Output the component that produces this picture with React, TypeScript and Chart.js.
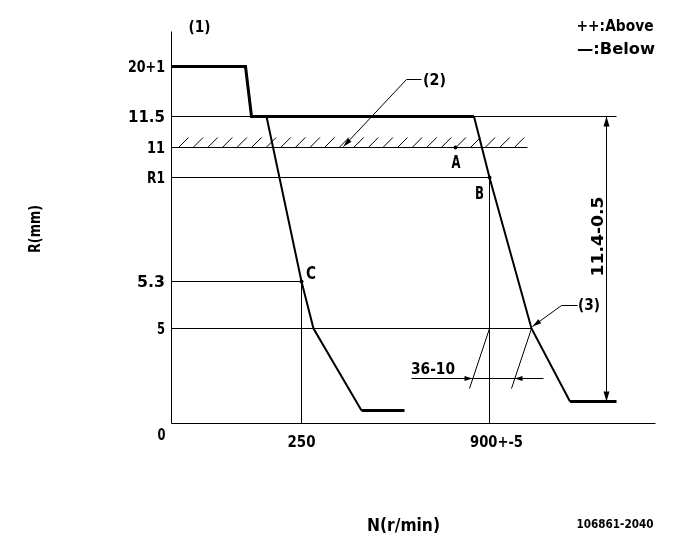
import React, { useEffect, useRef } from 'react';
import { Chart, registerables } from 'chart.js';
Chart.register(...registerables);

// Schematic governor diagram (not to scale): values are diagram positions
const xTickLabels = ['0', '250', '900+-5'];
const xTickValues = [0, 130, 318];
const yTickLabels = ['0', '5', '5.3', 'R1', '11', '11.5', '20+1'];
const yTickValues = [0, 95, 142, 246, 276, 307, 357];

// main characteristic
const fullLoadN = [0, 74, 80, 302.5];
const fullLoadR = [357, 357, 307, 307];
const highDroopN = [302.5, 318, 360, 398.5];
const highDroopR = [307, 246, 95, 22];
const highStopN = [398.5, 445];
const highStopR = [22, 22];
const lowDroopN = [95, 130, 142, 190];
const lowDroopR = [307, 142, 95, 13];
const lowStopN = [190, 233];
const lowStopR = [13, 13];

// measuring points A, B, C
const pointN = [284, 318, 130];
const pointR = [276, 246, 142];

// thin reference lines
const refLinesN = [
  [0, 445], [0, 356], [0, 318], [0, 130], [130, 130], [0, 360], [318, 318],
  [0, 0], [0, 484], [435, 435], [240, 372], [318, 298], [360, 340],
  [250, 235, 172], [406, 390, 361],
];
const refLinesR = [
  [307, 307], [276, 276], [246, 246], [142, 142], [142, 0], [95, 95], [246, 0],
  [0, 392], [0, 0], [307, 22], [45, 45], [95, 35], [95, 35],
  [344, 344, 277], [118, 118, 97],
];

const pts = (xs: number[], ys: number[]) => xs.map((x, i) => ({ x, y: ys[i] }));

function drawText(ctx: CanvasRenderingContext2D, text: string, px: number, py: number,
  size: number, width?: number, align: CanvasTextAlign = 'center', rot = 0) {
  ctx.save();
  ctx.font = `bold ${size}px "DejaVu Sans"`;
  const w = ctx.measureText(text).width;
  const sx = width ? width / w : 1;
  ctx.translate(px, py);
  if (rot) ctx.rotate(rot);
  ctx.scale(sx, 1);
  ctx.textAlign = align;
  ctx.textBaseline = 'alphabetic';
  ctx.fillStyle = '#000';
  ctx.fillText(text, 0, (size * 0.729) / 2);
  ctx.restore();
}

function drawArrow(ctx: CanvasRenderingContext2D, tx: number, ty: number, fx: number, fy: number, len: number, half: number) {
  const a = Math.atan2(ty - fy, tx - fx);
  const bx = tx - len * Math.cos(a), by = ty - len * Math.sin(a);
  ctx.beginPath();
  ctx.moveTo(tx, ty);
  ctx.lineTo(bx + half * Math.sin(a), by - half * Math.cos(a));
  ctx.lineTo(bx - half * Math.sin(a), by + half * Math.cos(a));
  ctx.closePath();
  ctx.fill();
}

const notes = [
  { t: '(1)', n: 28, r: 397, size: 15, w: 22, rot: 0 },
  { t: '++:Above', n: 443.5, r: 397.5, size: 15, w: 77, rot: 0 },
  { t: '\u2014:Below', n: 444.5, r: 374.5, size: 15, w: 78, rot: 0 },
  { t: '(2)', n: 263, r: 343.5, size: 15, w: 23, rot: 0 },
  { t: '(3)', n: 417.5, r: 118.5, size: 15, w: 22, rot: 0 },
  { t: 'A', n: 284.5, r: 262, size: 17, w: 9, rot: 0 },
  { t: 'B', n: 308, r: 230.5, size: 17, w: 9, rot: 0 },
  { t: 'C', n: 139.5, r: 151, size: 17, w: 10, rot: 0 },
  { t: '36-10', n: 261.5, r: 55, size: 15, w: 44, rot: 0 },
  { t: '11.4-0.5', n: 426, r: 187, size: 16, w: 80, rot: -Math.PI / 2 },
  { t: 'R(mm)', n: -137.5, r: 194.5, size: 16, w: 48, rot: -Math.PI / 2 },
  { t: 'N(r/min)', n: 232, r: -100.5, size: 18, w: 73, rot: 0 },
  { t: '106861-2040', n: 443.5, r: -100.5, size: 12, w: 77, rot: 0 },
];

const yLabelWidth: Record<string, number> = { '20+1': 37, '11.5': 37, '11': 18, 'R1': 18, '5.3': 28, '5': 8 };
const xLabelWidth: Record<string, number> = { '0': 8, '250': 28, '900+-5': 53 };

const annotate = {
  id: 'annotate',
  afterDatasetsDraw(chart: any) {
    const { ctx } = chart;
    const xs = chart.scales.x, ys = chart.scales.y;
    const X = (v: number) => xs.getPixelForValue(v);
    const Y = (v: number) => ys.getPixelForValue(v);
    ctx.save();
    ctx.strokeStyle = '#000';
    ctx.fillStyle = '#000';
    ctx.lineWidth = 1;
    // hatch on the 11 line
    for (let u = 7; u <= 347; u += 14.6) {
      ctx.beginPath();
      ctx.moveTo(X(u), Y(276));
      ctx.lineTo(X(u + 10), Y(286));
      ctx.stroke();
    }
    // arrows
    drawArrow(ctx, X(435), Y(307), X(435), Y(290), 10, 3);
    drawArrow(ctx, X(435), Y(22), X(435), Y(40), 10, 3);
    drawArrow(ctx, X(301), Y(45), X(280), Y(45), 8, 2.5);
    drawArrow(ctx, X(343), Y(45), X(365), Y(45), 8, 2.5);
    drawArrow(ctx, X(172), Y(277), X(235), Y(344), 9, 2.5);
    drawArrow(ctx, X(361), Y(97), X(390), Y(118), 9, 2.5);
    ctx.restore();

    // tick labels
    yTickLabels.forEach((lab, i) => {
      if (yTickValues[i] === 0) return;
      drawText(ctx, lab, X(-6.5), Y(yTickValues[i]), 15, yLabelWidth[lab], 'right');
    });
    xTickLabels.forEach((lab, i) => {
      const v = xTickValues[i];
      if (v === 0) {
        drawText(ctx, lab, X(-10), Y(-11.5), 15, xLabelWidth[lab]);
      } else if (lab.includes('+')) {
        drawText(ctx, lab, X(v) - 19.5, Y(-18), 16, xLabelWidth[lab], 'left');
      } else {
        drawText(ctx, lab, X(v), Y(-18), 16, xLabelWidth[lab]);
      }
    });
    notes.forEach((o) => drawText(ctx, o.t, X(o.n), Y(o.r), o.size, o.w, 'center', o.rot));
  },
};

export default function App() {
  const ref = useRef<HTMLCanvasElement>(null);
  useEffect(() => {
    if (!ref.current) return;
    const line = (data: any, width: number) => ({
      data, showLine: true, borderColor: '#000', borderWidth: width, pointRadius: 0,
      borderJoinStyle: 'miter', borderCapStyle: 'butt', clip: false, fill: false,
    });
    const datasets: any[] = [
      line(pts(fullLoadN, fullLoadR), 3),
      line(pts(highDroopN, highDroopR), 2),
      line(pts(highStopN, highStopR), 3),
      line(pts(lowDroopN, lowDroopR), 2),
      line(pts(lowStopN, lowStopR), 3),
      {
        data: pts(pointN, pointR), showLine: false, pointRadius: 2, pointBackgroundColor: '#000',
        pointBorderWidth: 0, clip: false,
      },
      ...refLinesN.map((n, i) => line(pts(n, refLinesR[i]), 1)),
    ];
    const chart = new Chart(ref.current, {
      type: 'scatter',
      data: { datasets },
      options: {
        animation: false,
        responsive: false,
        devicePixelRatio: 1,
        layout: { padding: { left: 171.5, right: 26.5, top: 31.5, bottom: 125.5 } },
        plugins: { legend: { display: false }, tooltip: { enabled: false } },
        events: [],
        scales: {
          x: { type: 'linear', min: 0, max: 483, display: false },
          y: { type: 'linear', min: 0, max: 392, display: false },
        },
      },
      plugins: [annotate],
    } as any);
    return () => chart.destroy();
  }, []);
  return (
    <div style={{ position: 'fixed', left: 0, top: 0, width: 681, height: 549, background: '#fff' }}>
      <canvas ref={ref} width={681} height={549} style={{ display: 'block' }} />
    </div>
  );
}
